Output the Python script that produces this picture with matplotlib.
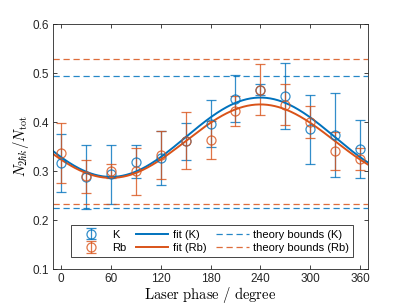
import numpy as np
import matplotlib
matplotlib.use("Agg")
import matplotlib.pyplot as plt

plt.rcParams['font.family'] = ['Liberation Sans', 'DejaVu Sans']
plt.rcParams['mathtext.fontset'] = 'cm'

# measured points (laser phase in degree)
phase = [0, 30, 60, 90, 120, 150, 180, 210, 240, 270, 300, 330, 360]
k_val = [0.317, 0.288, 0.293, 0.319, 0.326, 0.361, 0.397, 0.448, 0.466, 0.453, 0.385, 0.373, 0.345]
k_err = [0.059, 0.066, 0.061, 0.034, 0.055, 0.038, 0.048, 0.048, 0.011, 0.067, 0.071, 0.086, 0.060]
rb_val = [0.337, 0.289, 0.300, 0.300, 0.333, 0.362, 0.363, 0.423, 0.466, 0.435, 0.400, 0.341, 0.325]
rb_err = [0.062, 0.034, 0.015, 0.048, 0.049, 0.058, 0.039, 0.031, 0.052, 0.042, 0.033, 0.039, 0.023]

# sine fit parameters: offset, amplitude, phase of maximum (degree)
fit_k = (0.369, 0.081, 240)
fit_rb = (0.361, 0.075, 240)

# theory bounds (low, high)
bounds_k = (0.224, 0.494)
bounds_rb = (0.232, 0.529)

blue = '#0072BD'
orange = '#D95319'

fig = plt.figure(figsize=(4.07, 3.05), dpi=100)
ax = fig.add_axes([0.1295, 0.118, 0.7755, 0.803])

x = np.linspace(-10, 370, 400)
ax.errorbar(phase, k_val, yerr=k_err, fmt='o', mfc='none', mec=blue, ms=6.5,
            ecolor=blue, color=blue, elinewidth=0.9, capsize=3.5, capthick=0.9,
            mew=0.9, alpha=0.8, label='K')
ax.errorbar(phase, rb_val, yerr=rb_err, fmt='o', mfc='none', mec=orange, ms=6.5,
            ecolor=orange, color=orange, elinewidth=0.9, capsize=3.5, capthick=0.9,
            mew=0.9, alpha=0.8, label='Rb')
c, a, p = fit_k
ax.plot(x, c + a * np.cos(np.radians(x - p)), color=blue, lw=1.4, label='fit (K)')
c, a, p = fit_rb
ax.plot(x, c + a * np.cos(np.radians(x - p)), color=orange, lw=1.4, label='fit (Rb)')
for i, b in enumerate(bounds_k):
    ax.axhline(b, color=blue, ls=(0, (5, 3)), lw=0.9, alpha=0.85,
               label='theory bounds (K)' if i == 0 else None)
for i, b in enumerate(bounds_rb):
    ax.axhline(b, color=orange, ls=(0, (5, 3)), lw=0.9, alpha=0.85,
               label='theory bounds (Rb)' if i == 0 else None)

ax.set_xlim(-10, 370)
ax.set_ylim(0.1, 0.6)
ax.set_xticks(range(0, 361, 60))
ax.set_yticks([0.1, 0.2, 0.3, 0.4, 0.5, 0.6])
ax.tick_params(direction='in', top=True, right=True, labelsize=8.5,
               colors='#262626', length=3, width=0.6, pad=3)
for s in ax.spines.values():
    s.set_color('#262626')
    s.set_linewidth(0.6)
ax.set_xlabel(r'$\mathrm{Laser\ phase\ /\ degree}$', fontsize=10.5, labelpad=0)
ax.set_ylabel(r'$N_{2\hbar k}/N_\mathrm{tot}$', fontsize=10.5, labelpad=1)

handles, labels = ax.get_legend_handles_labels()
order = ['K', 'Rb', 'fit (K)', 'fit (Rb)', 'theory bounds (K)', 'theory bounds (Rb)']
hmap = dict(zip(labels, handles))
leg = ax.legend([hmap[o] for o in order], order, ncol=3, loc='lower center',
                bbox_to_anchor=(0.505, 0.025), fontsize=8, fancybox=False,
                edgecolor='#262626', framealpha=1, columnspacing=0.9,
                handlelength=2.9, borderpad=0.4, labelspacing=0.3, handletextpad=0.4)
leg.get_frame().set_linewidth(0.6)

fig.savefig('out.png', dpi=100)
